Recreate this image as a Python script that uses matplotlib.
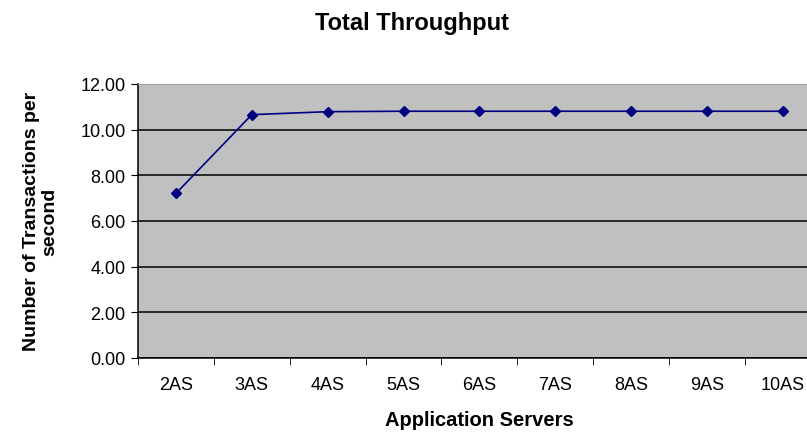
import numpy as np
import matplotlib
matplotlib.use("Agg")
import matplotlib.pyplot as plt

plt.rcParams['font.family'] = ['Liberation Sans', 'DejaVu Sans']

# datos
servidores = ["2AS", "3AS", "4AS", "5AS", "6AS", "7AS", "8AS", "9AS", "10AS"]
transacciones = [7.2, 10.65, 10.78, 10.8, 10.8, 10.8, 10.8, 10.8, 10.8]
y_ticks = [0, 2, 4, 6, 8, 10, 12]

fig = plt.figure(figsize=(8.07, 4.35), dpi=100)
ax = fig.add_axes([0.171, 0.175, 0.846, 0.630])
ax.set_facecolor("#c0c0c0")

x = np.arange(len(servidores))
ax.plot(x, transacciones, color="#000080", linewidth=1.2,
        marker="D", markersize=5.5, markerfacecolor="#000080",
        markeredgecolor="#000080", zorder=3)

ax.set_xlim(-0.5, len(servidores) - 0.5)
ax.set_ylim(0, 12)

# -------- ejes --------
ax.set_yticks(y_ticks)
ax.set_yticklabels([f"{v:.2f}" for v in y_ticks], fontsize=13)
ax.yaxis.grid(True, color="black", linewidth=1.1)
ax.set_axisbelow(True)

ax.set_xticks(x)
ax.set_xticklabels(servidores, fontsize=13)
ax.set_xticks(np.arange(-0.5, len(servidores)), minor=True)
ax.tick_params(axis="x", which="major", length=0, pad=13)
ax.tick_params(axis="x", which="minor", length=5, direction="out", color="black")
ax.tick_params(axis="y", length=5, direction="out", color="black", pad=4)

for lado in ["left", "bottom"]:
    ax.spines[lado].set_color("black")
    ax.spines[lado].set_linewidth(1.1)
ax.spines["top"].set_color("#a0a0a0")
ax.spines["right"].set_visible(False)

ax.set_xlabel("Application Servers", fontsize=14.5, fontweight="bold", labelpad=12)
ax.set_ylabel("Number of Transactions per\nsecond", fontsize=14,
              fontweight="bold", labelpad=16, linespacing=1.05)

fig.text(0.511, 0.945, "Total Throughput", ha="center", va="center",
         fontsize=17, fontweight="bold")

plt.savefig("out.png", dpi=100)
plt.close()
